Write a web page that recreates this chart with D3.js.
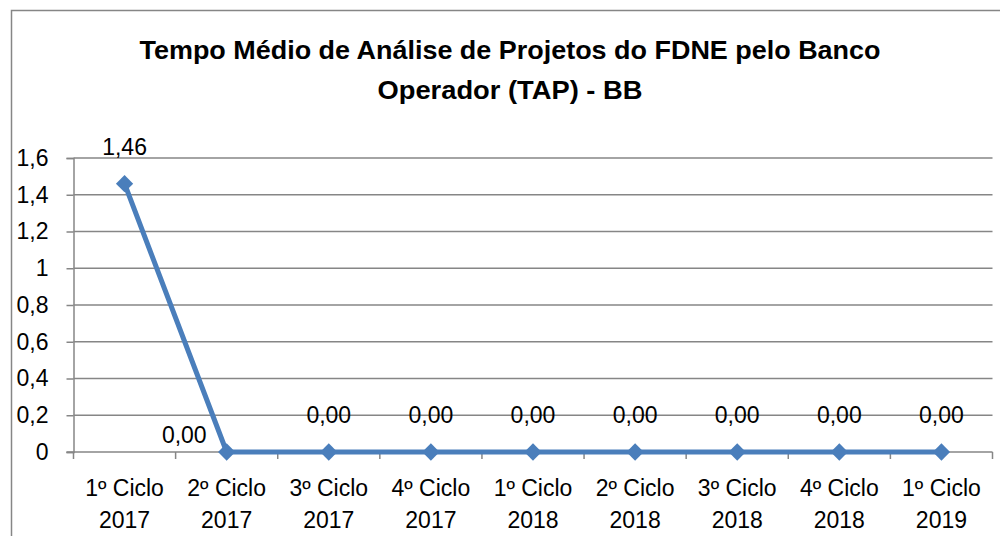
<!DOCTYPE html>
<html>
<head>
<meta charset="utf-8">
<script src="https://cdn.jsdelivr.net/npm/d3@7"></script>
<style>
  body { margin: 0; background: #fff; }
  text { font-family: "Liberation Sans", Arial, sans-serif; fill: #000; }
</style>
</head>
<body>
<script>
// Chart data
var cycles = ["1º Ciclo", "2º Ciclo", "3º Ciclo", "4º Ciclo", "1º Ciclo", "2º Ciclo", "3º Ciclo", "4º Ciclo", "1º Ciclo"];
var years = ["2017", "2017", "2017", "2017", "2018", "2018", "2018", "2018", "2019"];
var tapValues = [1.46, 0, 0, 0, 0, 0, 0, 0, 0];
var yTicks = [0, 0.2, 0.4, 0.6, 0.8, 1, 1.2, 1.4, 1.6];
var titleLines = ["Tempo Médio de Análise de Projetos do FDNE pelo Banco", "Operador (TAP) - BB"];

var w = 1000;
var h = 536;
var plotLeft = 73.5, plotRight = 992.5, plotTop = 158, plotBottom = 452;
var gray = "#868686";
var blue = "#4a7ebb";

var svg = d3.select("body")
  .append("svg")
  .attr("width", w)
  .attr("height", h);

// chart frame
svg.append("rect")
  .attr("x", 11.5).attr("y", 10.5)
  .attr("width", 1000).attr("height", 600)
  .attr("fill", "none")
  .attr("stroke", gray)
  .attr("stroke-width", 1.5);

// title
svg.selectAll("text.title")
  .data(titleLines)
  .enter()
  .append("text")
  .attr("class", "title")
  .attr("x", 510)
  .attr("y", function(d, i) { return 59 + i * 40; })
  .attr("text-anchor", "middle")
  .attr("font-weight", "bold")
  .attr("font-size", 26)
  .attr("textLength", function(d, i) { return i == 0 ? 741 : 265; })
  .attr("lengthAdjust", "spacingAndGlyphs")
  .text(function(d) { return d; });

var idx = d3.range(cycles.length);

var scaleX = d3.scaleBand()
  .domain(idx)
  .range([plotLeft, plotRight]);

var scaleY = d3.scaleLinear()
  .domain([0, 1.6])
  .range([plotBottom, plotTop]);

// horizontal gridlines
svg.selectAll("line.grid")
  .data(yTicks.slice(1))
  .enter()
  .append("line")
  .attr("class", "grid")
  .attr("x1", plotLeft).attr("x2", plotRight)
  .attr("y1", function(d) { return scaleY(d); })
  .attr("y2", function(d) { return scaleY(d); })
  .attr("stroke", gray)
  .attr("stroke-width", 1.5);

// y axis
var yAxis = d3.axisLeft(scaleY)
  .tickValues(yTicks)
  .tickSize(7)
  .tickPadding(18)
  .tickFormat(function(d) { return d == 0 ? "0" : d == 1 ? "1" : d3.format(".1f")(d).replace(".", ","); });

var gy = svg.append("g")
  .attr("transform", "translate(" + plotLeft + ",0)")
  .call(yAxis);
gy.select(".domain").attr("stroke", gray).attr("stroke-width", 1.5);
gy.selectAll(".tick line").attr("stroke", gray).attr("stroke-width", 1.5);
gy.selectAll(".tick text")
  .attr("font-size", 23)
  .attr("font-family", "Liberation Sans, Arial, sans-serif")
  .attr("fill", "#000");

// x axis with ticks at category boundaries
var gx = svg.append("g")
  .attr("transform", "translate(0," + plotBottom + ")");
gx.append("line")
  .attr("x1", plotLeft - 7).attr("x2", plotRight)
  .attr("stroke", gray).attr("stroke-width", 1.5);
gx.selectAll("line.xt")
  .data(idx.concat([cycles.length]))
  .enter()
  .append("line")
  .attr("class", "xt")
  .attr("x1", function(d) { return plotLeft + d * scaleX.step(); })
  .attr("x2", function(d) { return plotLeft + d * scaleX.step(); })
  .attr("y1", 0).attr("y2", 7)
  .attr("stroke", gray).attr("stroke-width", 1.5);

var xl = gx.selectAll("text.xl")
  .data(idx)
  .enter()
  .append("text")
  .attr("class", "xl")
  .attr("text-anchor", "middle")
  .attr("font-size", 23)
  .attr("x", function(d) { return scaleX(d) + scaleX.bandwidth() / 2; });
xl.append("tspan")
  .attr("x", function(d) { return scaleX(d) + scaleX.bandwidth() / 2; })
  .attr("y", 44)
  .text(function(d) { return cycles[d]; });
xl.append("tspan")
  .attr("x", function(d) { return scaleX(d) + scaleX.bandwidth() / 2; })
  .attr("y", 76)
  .text(function(d) { return years[d]; });

function cx(i) { return scaleX(i) + scaleX.bandwidth() / 2; }

// line
var line = d3.line()
  .x(function(d, i) { return cx(i); })
  .y(function(d) { return scaleY(d); });

svg.append("path")
  .datum(tapValues)
  .attr("d", line)
  .attr("fill", "none")
  .attr("stroke", blue)
  .attr("stroke-width", 5)
  .attr("stroke-linejoin", "round");

// diamond markers
svg.selectAll("path.mk")
  .data(tapValues)
  .enter()
  .append("path")
  .attr("class", "mk")
  .attr("d", d3.symbol().type(d3.symbolDiamond2).size(190))
  .attr("transform", function(d, i) { return "translate(" + cx(i) + "," + scaleY(d) + ")"; })
  .attr("fill", blue);

// data labels
svg.selectAll("text.lbl")
  .data(tapValues)
  .enter()
  .append("text")
  .attr("class", "lbl")
  .attr("font-size", 23)
  .attr("text-anchor", function(d, i) { return i == 1 ? "end" : "middle"; })
  .attr("x", function(d, i) { return i == 1 ? cx(i) - 20 : cx(i); })
  .attr("y", function(d, i) { return i == 1 ? scaleY(d) - 9 : scaleY(d) - 29; })
  .text(function(d) { return d3.format(".2f")(d).replace(".", ","); });
</script>
</body>
</html>
